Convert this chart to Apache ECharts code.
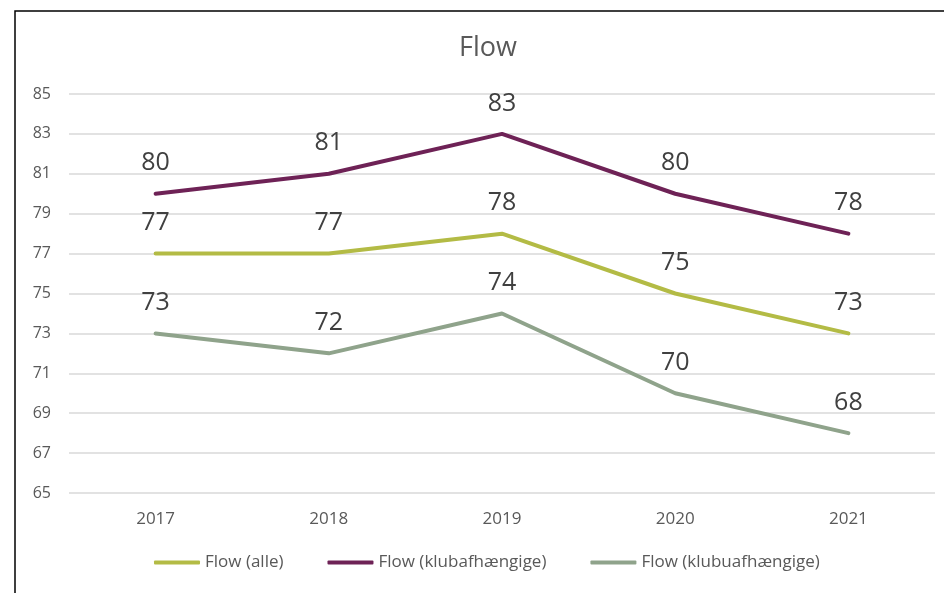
<!DOCTYPE html>
<html><head><meta charset="utf-8">
<script src="https://cdn.jsdelivr.net/npm/echarts@6/dist/echarts.min.js"></script>
<style>html,body{margin:0;padding:0;background:#fff}#c{width:944px;height:593px}</style>
</head><body><div id="c"></div>
<script>
const years = ['2017','2018','2019','2020','2021'];
const alle = [77, 77, 78, 75, 73];
const klubafh = [80, 81, 83, 80, 78];
const klubuafh = [73, 72, 74, 70, 68];
const names = ['Flow (alle)', 'Flow (klubafhængige)', 'Flow (klubuafhængige)'];
const colors = ['#b3bb45', '#6e2256', '#8fa38b'];
const font = '"Open Sans", "Noto Sans", sans-serif';
const chart = echarts.init(document.getElementById('c'));
function s(name, data, color) {
  return {
    name, type: 'line', data, symbol: 'circle', symbolSize: 2, showSymbol: true,
    lineStyle: {width: 4, color, cap: 'round'}, itemStyle: {color, opacity: 0},
    label: {show: true, position: 'top', distance: 17, fontSize: 25, color: '#404040', fontFamily: font, opacity: 1}
  };
}
chart.setOption({
  animation: false,
  graphic: [{type: 'rect', shape: {x: 15, y: 11, width: 940, height: 600}, style: {fill: 'none', stroke: '#000', lineWidth: 1.5}}],
  title: {text: 'Flow', left: 454, top: 30, textStyle: {fontSize: 27, fontWeight: 'normal', color: '#595959', fontFamily: font}},
  legend: {bottom: 17, left: 149, itemWidth: 46, itemHeight: 4, itemGap: 44,
    data: names.map((n, i) => ({name: n, icon: 'roundRect', itemStyle: {color: colors[i], opacity: 1}})),
    textStyle: {fontSize: 17, color: '#595959', fontFamily: font}},
  grid: {left: 69, right: 9, top: 94, bottom: 100},
  xAxis: {type: 'category', data: years, boundaryGap: true,
    axisLine: {show: false}, axisTick: {show: false},
    axisLabel: {fontSize: 17, color: '#595959', margin: 18, fontFamily: font}},
  yAxis: {type: 'value', min: 65, max: 85, interval: 2,
    axisLine: {show: false}, axisTick: {show: false},
    splitLine: {lineStyle: {color: '#d9d9d9', width: 1.5}},
    axisLabel: {fontSize: 16, color: '#595959', margin: 18, fontFamily: font}},
  series: [s(names[0], alle, colors[0]), s(names[1], klubafh, colors[1]), s(names[2], klubuafh, colors[2])]
});
</script></body></html>
